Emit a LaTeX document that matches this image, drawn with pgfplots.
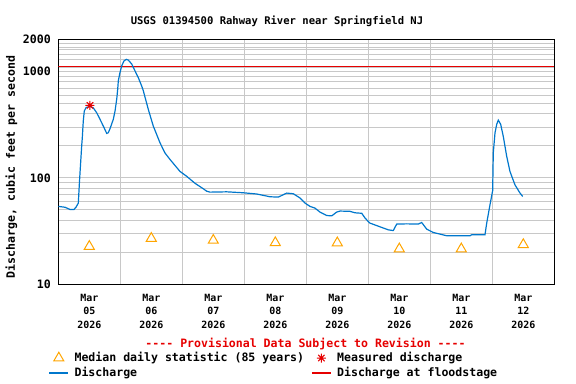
\documentclass[border=0pt]{standalone}
\usepackage{pgfplots}
\pgfplotsset{compat=1.18}
\usepackage{fontspec}
\setmonofont{DejaVu Sans Mono}
\renewcommand{\familydefault}{\ttdefault}
\definecolor{qblue}{RGB}{0,119,204}
\definecolor{qorange}{RGB}{255,165,0}
\definecolor{qgrid}{RGB}{200,200,200}
\definecolor{qred}{RGB}{230,0,0}
\newcommand\fbig{\fontsize{11.6}{13}\selectfont\bfseries}
\newcommand\ftitle{\fontsize{10.6}{13}\selectfont\bfseries}
\newcommand\ftick{\fontsize{10}{13.3}\selectfont\bfseries}
\pgfdeclareplotmark{usgsstar}{%
  \pgfpathmoveto{\pgfqpoint{-\pgfplotmarksize}{0pt}}%
  \pgfpathlineto{\pgfqpoint{\pgfplotmarksize}{0pt}}%
  \pgfpathmoveto{\pgfqpoint{0pt}{-\pgfplotmarksize}}%
  \pgfpathlineto{\pgfqpoint{0pt}{\pgfplotmarksize}}%
  \pgfpathmoveto{\pgfqpoint{-0.7071\pgfplotmarksize}{-0.7071\pgfplotmarksize}}%
  \pgfpathlineto{\pgfqpoint{0.7071\pgfplotmarksize}{0.7071\pgfplotmarksize}}%
  \pgfpathmoveto{\pgfqpoint{-0.7071\pgfplotmarksize}{0.7071\pgfplotmarksize}}%
  \pgfpathlineto{\pgfqpoint{0.7071\pgfplotmarksize}{-0.7071\pgfplotmarksize}}%
  \pgfusepathqstroke}
\begin{document}
\begin{tikzpicture}
\useasboundingbox (0,0) rectangle (576bp,384bp);
\begin{axis}[
  at={(58.3bp,99.7bp)}, anchor=south west,
  scale only axis, width=496bp, height=244.8bp,
  ymode=log, xmin=0, xmax=8, ymin=10, ymax=2000,
  axis line style={line width=1.2bp},
  ytick={10,100,1000,2000}, yticklabels={10,100,1000,2000},
  minor ytick={20,30,40,50,60,70,80,90,200,300,400,500,600,700,800,900,1100,1300,1450,1600,1700,1850},
  xtick={0.5,1.5,2.5,3.5,4.5,5.5,6.5,7.5},
  xticklabels={{Mar\\05\\2026},{Mar\\06\\2026},{Mar\\07\\2026},{Mar\\08\\2026},{Mar\\09\\2026},{Mar\\10\\2026},{Mar\\11\\2026},{Mar\\12\\2026}},
  minor xtick={1,2,3,4,5,6,7},
  xminorgrids, yminorgrids, ymajorgrids,
  major tick length=0pt, minor tick length=0pt,
  grid style={qgrid, line width=1bp}, minor grid style={qgrid, line width=1bp},
  xticklabel style={align=center, font=\ftick, yshift=-6.5bp},
  yticklabel style={font=\fbig, xshift=-4bp},
  ylabel={Discharge, cubic feet per second},
  ylabel style={at={(axis description cs:-0.0944,0.48)}, anchor=center, font=\fbig},
  legend columns=2,
  legend cell align=left,
  legend style={at={(axis description cs:-0.02,-0.27)}, anchor=north west, draw=none, fill=none,
     font=\fbig, inner sep=0pt, row sep=0pt,
     /tikz/every odd column/.append style={column sep=3.5bp},
     /tikz/every even column/.append style={column sep=5bp}},
]
\addlegendimage{legend image code/.code={\draw[qorange, line width=1bp] plot[mark=triangle, mark size=5.8bp] coordinates {(9.5bp,0bp)};}}
\addlegendentry{Median daily statistic (85 years)}
\addlegendimage{legend image code/.code={\draw[qred, line width=1bp] plot[mark=usgsstar, mark size=4.5bp] coordinates {(9.5bp,0bp)};}}
\addlegendentry{Measured discharge}
\addlegendimage{legend image code/.code={\draw[draw=qblue, line width=1.5bp] (0bp,0bp) -- (19bp,0bp);}}
\addlegendentry{Discharge}
\addlegendimage{legend image code/.code={\draw[draw=qred, line width=1.5bp] (0bp,0bp) -- (19bp,0bp);}}
\addlegendentry{Discharge at floodstage}

\addplot[qred, line width=1.3bp, forget plot] coordinates {(0,1114) (8,1114)};
\addplot[qblue, line width=1.2bp, forget plot] coordinates {
(0.000,54) (0.108,53) (0.189,50.5) (0.253,50.5) (0.285,53) (0.323,58) (0.339,87)
(0.355,124) (0.377,199) (0.387,238) (0.403,342) (0.419,425) (0.447,458) (0.511,470)
(0.565,455) (0.619,410) (0.673,355) (0.726,307) (0.781,262) (0.806,266) (0.834,290)
(0.887,355) (0.915,425) (0.942,548) (0.958,681) (0.968,815) (0.995,978) (1.023,1130)
(1.060,1260) (1.097,1300) (1.129,1280) (1.184,1177) (1.237,1014) (1.290,877) (1.345,731)
(1.371,660) (1.452,440) (1.532,307) (1.640,214) (1.719,172) (1.802,149) (1.963,115)
(2.071,103.5) (2.205,89) (2.339,79) (2.394,75) (2.447,73.5) (2.716,74) (2.984,72.5)
(3.200,70.6) (3.415,66.5) (3.548,66) (3.684,72) (3.790,71) (3.898,64.8) (3.979,58)
(4.060,54) (4.140,52) (4.221,47.7) (4.329,44.3) (4.410,44) (4.490,47.7) (4.544,48.8)
(4.705,48.5) (4.786,47) (4.894,46.5) (4.947,42) (5.000,38.9) (5.027,37.6) (5.189,34.7)
(5.323,32.5) (5.403,32) (5.458,36.8) (5.619,37) (5.806,36.8) (5.861,38.1) (5.942,33)
(6.048,30.7) (6.265,28.6) (6.640,28.6) (6.668,29.2) (6.882,29.2) (6.910,37.6) (6.963,56)
(7.006,76) (7.016,172) (7.044,266) (7.071,319) (7.097,349) (7.135,319) (7.177,246)
(7.232,160) (7.285,115) (7.366,86) (7.447,72) (7.490,67)
};
\addplot[only marks, mark=triangle, mark size=5.8bp, qorange, mark options={line width=1bp}, forget plot] coordinates {
(0.5,22.7) (1.5,27.0) (2.5,25.9) (3.5,24.6) (4.5,24.5) (5.5,21.5) (6.5,21.5) (7.5,23.6)
};
\addplot[only marks, mark=usgsstar, mark size=4.5bp, qred, mark options={line width=1bp}, forget plot] coordinates {
(0.511,481)
};
\end{axis}
\node[font=\ftitle] at (277bp,363bp) {USGS 01394500 Rahway River near Springfield NJ};
\node[qred, font=\fbig] at (305.5bp,39.8bp) {---- Provisional Data Subject to Revision ----};
\end{tikzpicture}
\end{document}
